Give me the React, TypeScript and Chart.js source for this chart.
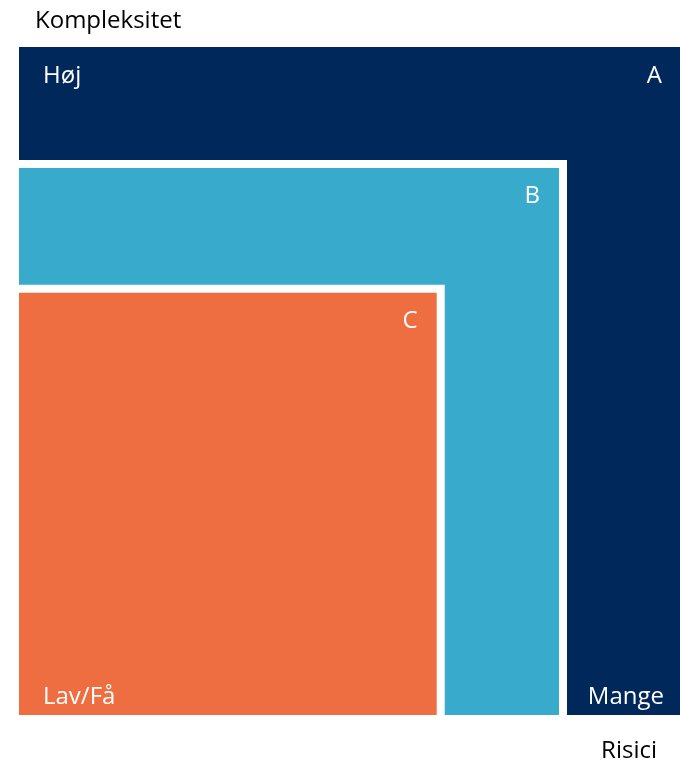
import React, { useEffect, useRef } from "react";
import { Chart, registerables } from "chart.js";

Chart.register(...registerables);

// Zones, outermost first
const zoneNames = ["A", "B", "C"];
const zoneRiskExtent = [100, 82.3, 63.8]; // share of the "Risici" axis
const zoneComplexityExtent = [100, 82.5, 63.8]; // share of the "Kompleksitet" axis
const zoneColors = ["#00285A", "#38AACB", "#EE6E42"];
const zoneBorderColors = ["rgba(0,0,0,0)", "#FFFFFF", "#FFFFFF"];

const yAxisTitle = "Kompleksitet";
const xAxisTitle = "Risici";
const highLabel = "Høj";
const lowLabel = "Lav/Få";
const manyLabel = "Mange";

const FONT = '"Open Sans", sans-serif';

const labelPlugin = {
  id: "zoneLabels",
  afterDatasetsDraw(chart: any) {
    const { ctx, scales, chartArea } = chart;
    const xs = scales.x;
    const ys = scales.y;
    ctx.save();
    ctx.textBaseline = "alphabetic";

    // corner letters
    ctx.fillStyle = "#FFFFFF";
    ctx.font = `24px ${FONT}`;
    ctx.textAlign = "right";
    zoneNames.forEach((name, i) => {
      const right = xs.getPixelForValue(zoneRiskExtent[i]);
      const top = ys.getPixelForValue(zoneComplexityExtent[i]);
      const inset = i === 0 ? 18 : 23;
      const down = i === 0 ? 36 : 39;
      ctx.fillText(name, right - inset, top + down);
    });

    // inner corner labels
    ctx.textAlign = "left";
    ctx.fillText(highLabel, chartArea.left + 24, chartArea.top + 36);
    ctx.fillText(lowLabel, chartArea.left + 24, chartArea.bottom - 11);
    ctx.textAlign = "right";
    ctx.fillText(manyLabel, chartArea.right - 16, chartArea.bottom - 11);

    // axis titles
    ctx.fillStyle = "#000000";
    ctx.font = `24px ${FONT}`;
    ctx.textAlign = "left";
    ctx.fillText(yAxisTitle, chartArea.left + 16, chartArea.top - 19);
    ctx.textAlign = "right";
    ctx.fillText(xAxisTitle, chartArea.right - 23, chartArea.bottom + 43);
    ctx.restore();
  },
};

export default function App() {
  const canvasRef = useRef<HTMLCanvasElement | null>(null);

  useEffect(() => {
    if (!canvasRef.current) return;
    const datasets = zoneNames.map((name, i) => ({
      label: name,
      data: [
        { x: 0, y: zoneComplexityExtent[i] },
        { x: zoneRiskExtent[i], y: zoneComplexityExtent[i] },
        { x: zoneRiskExtent[i], y: 0 },
      ],
      showLine: true,
      fill: "origin",
      backgroundColor: zoneColors[i],
      borderColor: zoneBorderColors[i],
      borderWidth: 8,
      pointRadius: 0,
      pointHoverRadius: 0,
      tension: 0,
      order: -i,
    }));

    const chart = new Chart(canvasRef.current, {
      type: "scatter",
      data: { datasets: datasets as any },
      options: {
        animation: false,
        responsive: false,
        devicePixelRatio: 1,
        layout: { padding: { left: 19, right: 0, top: 47, bottom: 46 } },
        scales: {
          x: { type: "linear", min: 0, max: 100, display: false },
          y: { type: "linear", min: 0, max: 100, display: false },
        },
        plugins: {
          legend: { display: false },
          tooltip: { enabled: false },
          title: { display: false },
        },
        events: [],
      },
      plugins: [labelPlugin],
    });
    return () => chart.destroy();
  }, []);

  return (
    <div style={{ position: "absolute", left: 0, top: 0, width: 680, height: 761, background: "#fff" }}>
      <canvas ref={canvasRef} width={680} height={761} style={{ width: 680, height: 761, display: "block" }} />
    </div>
  );
}
